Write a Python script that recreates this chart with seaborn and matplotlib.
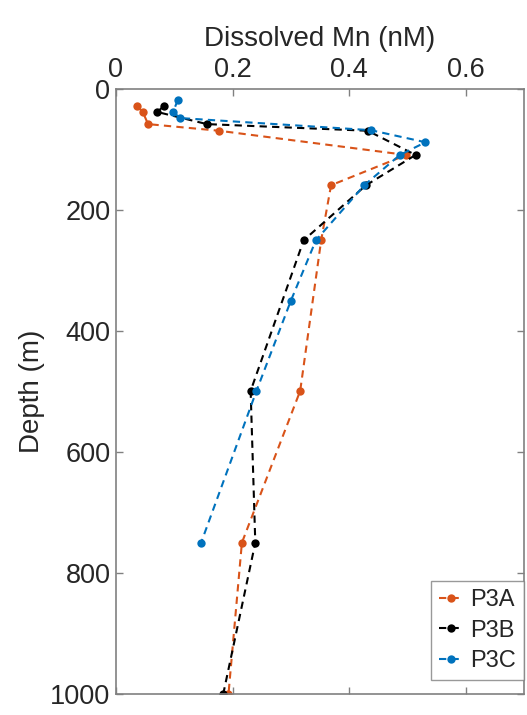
import matplotlib
matplotlib.use("Agg")
import matplotlib.pyplot as plt
import seaborn as sns

# Data
depth_a = [28, 38, 58, 69, 109, 159, 250, 499, 750, 1000]
mn_a = [0.036, 0.046, 0.055, 0.177, 0.498, 0.369, 0.352, 0.316, 0.216, 0.193]

depth_b = [28, 38, 58, 69, 109, 159, 250, 499, 750, 1000]
mn_b = [0.082, 0.071, 0.156, 0.432, 0.514, 0.429, 0.322, 0.231, 0.239, 0.184]

depth_c = [18, 38, 48, 68, 88, 109, 159, 250, 350, 499, 750]
mn_c = [0.106, 0.098, 0.110, 0.437, 0.531, 0.487, 0.426, 0.343, 0.300, 0.241, 0.146]

labels = ["P3A", "P3B", "P3C"]
colors = ["#D95319", "#000000", "#0072BD"]
x_ticks = [0, 0.2, 0.4, 0.6]
y_ticks = [0, 200, 400, 600, 800, 1000]

sns.set_style("white")
plt.rcParams["font.family"] = ["Liberation Sans", "DejaVu Sans"]
text_color = "#262626"
spine_color = "#808080"

fig = plt.figure(figsize=(5.27, 7.15), dpi=100)
ax = fig.add_axes([0.2201, 0.0294, 0.7742, 0.8461])

for xs, ys, lab, col in zip([mn_a, mn_b, mn_c], [depth_a, depth_b, depth_c], labels, colors):
    sns.lineplot(x=xs, y=ys, sort=False, estimator=None, ax=ax, color=col,
                 linewidth=1.5, marker="o", markersize=6,
                 markeredgewidth=0, label=lab)

for ln in ax.lines:
    ln.set_linestyle((0, (3.5, 2.5)))

ax.set_xlim(0, 0.7)
ax.set_ylim(1000, 0)
ax.set_xticks(x_ticks)
ax.set_xticklabels(["0", "0.2", "0.4", "0.6"])
ax.set_yticks(y_ticks)
ax.xaxis.set_label_position("top")
ax.xaxis.tick_top()
ax.tick_params(axis="both", which="both", direction="in", length=5, width=1,
               color=spine_color, labelsize=19.5, labelcolor=text_color,
               top=True, bottom=True, left=True, right=True,
               labeltop=True, labelbottom=False, labelleft=True, labelright=False, pad=4)
ax.set_xlabel("Dissolved Mn (nM)", fontsize=20, color=text_color, labelpad=8)
ax.set_ylabel("Depth (m)", fontsize=20, color=text_color, labelpad=4)
for s in ax.spines.values():
    s.set_visible(True)
    s.set_color(spine_color)
    s.set_linewidth(1.2)

leg = ax.legend(loc="lower right", bbox_to_anchor=(1.0, 0.023), borderaxespad=0,
                fontsize=17, frameon=True, fancybox=False, handlelength=1.0,
                handletextpad=0.3, labelspacing=0.35, borderpad=0.35)
leg.get_frame().set_edgecolor(spine_color)
leg.get_frame().set_linewidth(1.0)
for t in leg.get_texts():
    t.set_color(text_color)

fig.savefig("out.png", dpi=100)
